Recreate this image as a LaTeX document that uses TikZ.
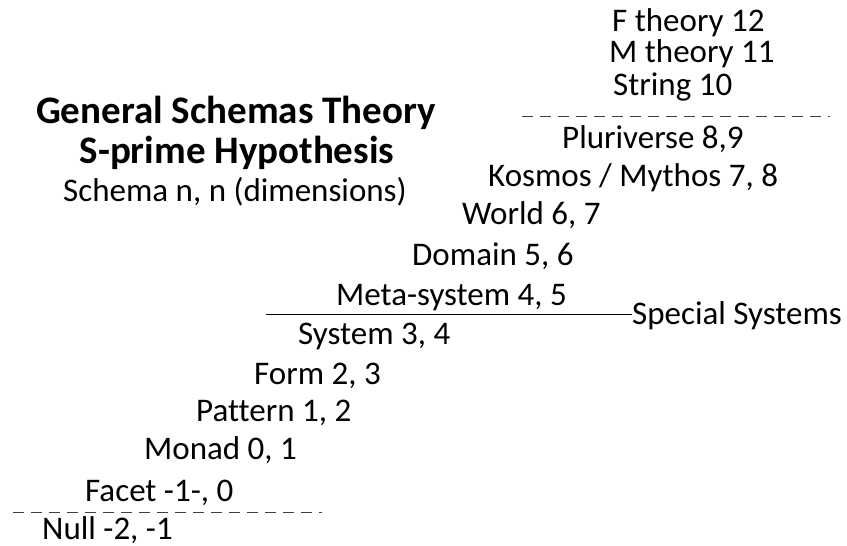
\documentclass[tikz,border=0pt]{standalone}
\usepackage{fontspec}
\setmainfont{Carlito}[Ligatures={NoCommon}]
\begin{document}
\begin{tikzpicture}[x=1pt,y=-1pt,
  lbl/.style={anchor=base west,inner sep=0pt,font=\fontsize{33}{33}\selectfont},
  ttl/.style={anchor=base,inner sep=0pt,font=\fontsize{39}{39}\selectfont\bfseries},
  dsh/.style={draw=black!75,line width=0.8pt,dash pattern=on 11pt off 7pt},
  sld/.style={draw=black,line width=0.9pt}]
\useasboundingbox (0,0) rectangle (847,546);
\node[lbl] (f) at (612,31) {F theory 12};
\node[lbl] (m) at (609,62) {M theory 11};
\node[lbl] (s) at (613,95) {String 10};
\node[lbl] (p) at (562,148) {Pluriverse 8,9};
\node[lbl] (k) at (488,186) {Kosmos / Mythos 7, 8};
\node[lbl] (w) at (462,224) {World 6, 7};
\node[lbl] (d) at (412,265) {Domain 5, 6};
\node[lbl] (ms) at (336,305) {Meta-system 4, 5};
\node[lbl] (sy) at (298,344) {System 3, 4};
\node[lbl] (fo) at (254,384) {Form 2, 3};
\node[lbl] (pa) at (196,421) {Pattern 1, 2};
\node[lbl] (mo) at (144,459) {Monad 0, 1};
\node[lbl] (fa) at (85,501) {Facet -1-, 0};
\node[lbl] (nu) at (42,539) {Null -2, -1};
\node[ttl] (t1) at (236,123) {General Schemas Theory};
\node[ttl] (t2) at (237,163) {S-prime Hypothesis};
\node[lbl,anchor=base] (t3) at (235,201) {Schema n, n (dimensions)};
\node[lbl] (ss) at (632,324) {Special Systems};
\coordinate (dl1) at (522,116);
\coordinate (dr1) at (830,116);
\coordinate (dl2) at (13,512);
\coordinate (dr2) at (322,512);
\coordinate (sl) at (266,314);
\draw[dsh] (dl1) -- (dr1);
\draw[dsh] (dl2) -- (dr2);
\draw[sld] (sl) -- (ss.west |- sl);
\end{tikzpicture}
\end{document}
